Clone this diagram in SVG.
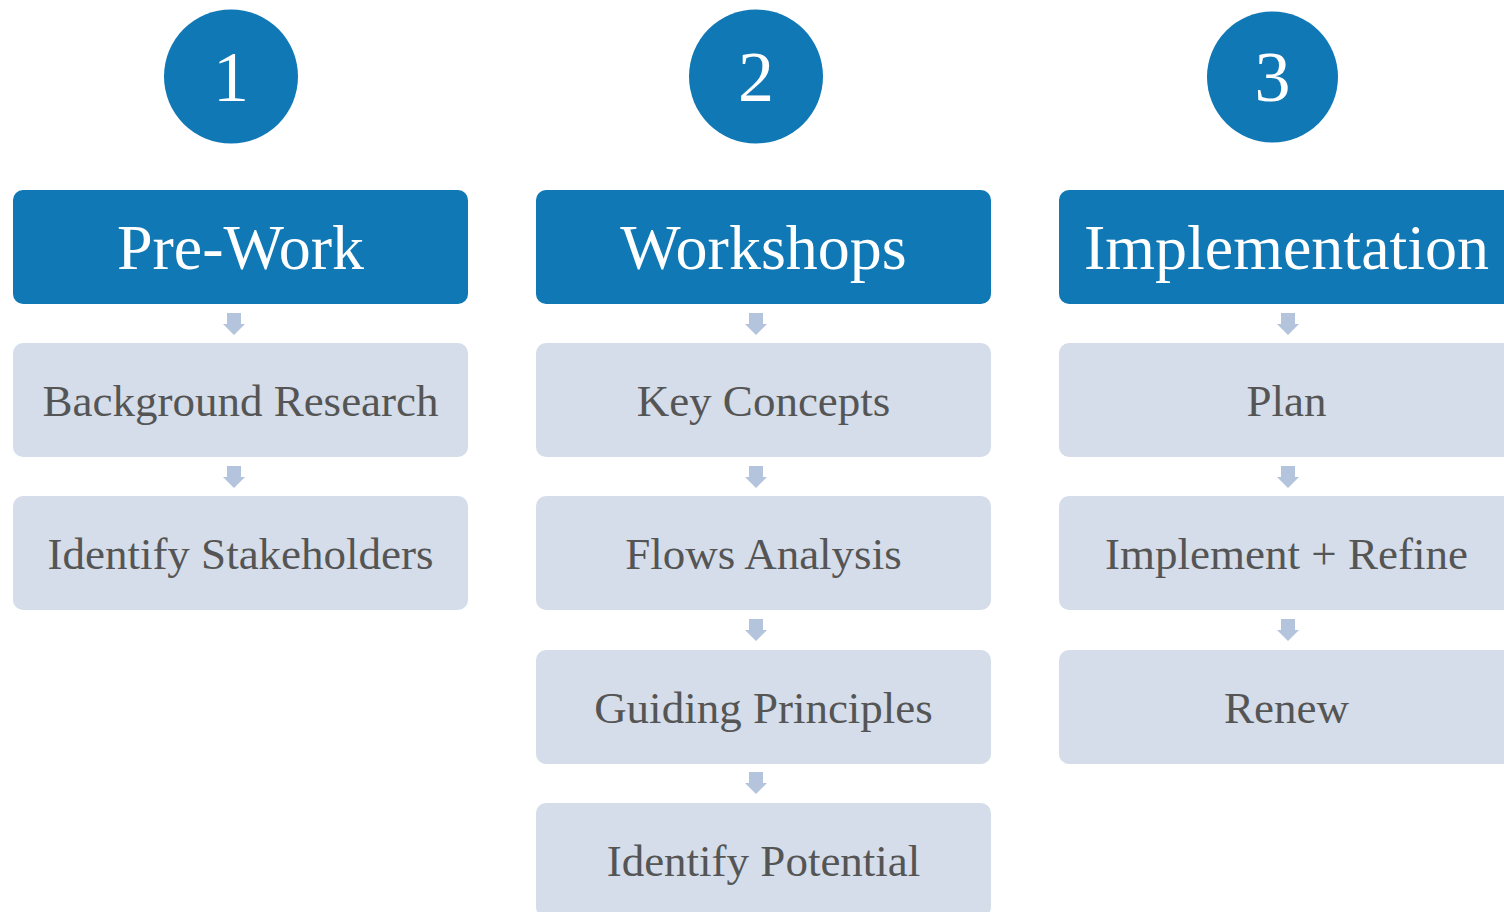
<svg xmlns="http://www.w3.org/2000/svg" width="1504" height="912" viewBox="0 0 1504 912">
<style>
.circ{fill:#0f78b5}
.num{fill:#fff;font-family:"Liberation Serif",serif;font-size:72px;text-anchor:middle}
.head{fill:#0f78b5}
.htxt{fill:#fff;font-family:"Liberation Serif",serif;font-size:64px;text-anchor:middle}
.sub{fill:#d4dde9}
.stxt{fill:#555555;font-family:"Liberation Serif",serif;font-size:45px;text-anchor:middle}
.arr{fill:#b5c4dd}
</style>
<defs>
<polygon id="ar" points="-7,0 7,0 7,11 11,11 0,22 -11,11 -7,11"/>
</defs>
<rect width="1504" height="912" fill="#fff"/>
<g id="connectors">
<use href="#ar" class="arr" x="234" y="313"/>
<use href="#ar" class="arr" x="234" y="466"/>
<use href="#ar" class="arr" x="756" y="313"/>
<use href="#ar" class="arr" x="756" y="466"/>
<use href="#ar" class="arr" x="756" y="619"/>
<use href="#ar" class="arr" x="756" y="772"/>
<use href="#ar" class="arr" x="1288" y="313"/>
<use href="#ar" class="arr" x="1288" y="466"/>
<use href="#ar" class="arr" x="1288" y="619"/>
</g>
<g id="step1"><circle class="circ" cx="231" cy="76.5" r="67"/><text class="num" x="231" y="101">1</text></g>
<g id="step2"><circle class="circ" cx="756" cy="76.5" r="67"/><text class="num" x="756" y="101">2</text></g>
<g id="step3"><circle class="circ" cx="1272.5" cy="77" r="65.5"/><text class="num" x="1272.5" y="101">3</text></g>
<g id="prework"><rect class="head" x="13" y="190" width="455" height="114" rx="10"/><text class="htxt" x="240.5" y="269">Pre-Work</text></g>
<g id="workshops"><rect class="head" x="536" y="190" width="455" height="114" rx="10"/><text class="htxt" x="763.5" y="269">Workshops</text></g>
<g id="implementation"><rect class="head" x="1059" y="190" width="455" height="114" rx="10"/><text class="htxt" x="1286.5" y="269">Implementation</text></g>
<g id="background"><rect class="sub" x="13" y="343" width="455" height="114" rx="10"/><text class="stxt" x="240.5" y="416">Background Research</text></g>
<g id="stakeholders"><rect class="sub" x="13" y="496" width="455" height="114" rx="10"/><text class="stxt" x="240.5" y="569">Identify Stakeholders</text></g>
<g id="keyconcepts"><rect class="sub" x="536" y="343" width="455" height="114" rx="10"/><text class="stxt" x="763.5" y="416">Key Concepts</text></g>
<g id="flows"><rect class="sub" x="536" y="496" width="455" height="114" rx="10"/><text class="stxt" x="763.5" y="569">Flows Analysis</text></g>
<g id="guiding"><rect class="sub" x="536" y="650" width="455" height="114" rx="10"/><text class="stxt" x="763.5" y="723">Guiding Principles</text></g>
<g id="potential"><rect class="sub" x="536" y="803" width="455" height="114" rx="10"/><text class="stxt" x="763.5" y="876">Identify Potential</text></g>
<g id="plan"><rect class="sub" x="1059" y="343" width="455" height="114" rx="10"/><text class="stxt" x="1286.5" y="416">Plan</text></g>
<g id="refine"><rect class="sub" x="1059" y="496" width="455" height="114" rx="10"/><text class="stxt" x="1286.5" y="569">Implement + Refine</text></g>
<g id="renew"><rect class="sub" x="1059" y="650" width="455" height="114" rx="10"/><text class="stxt" x="1286.5" y="723">Renew</text></g>
</svg>
